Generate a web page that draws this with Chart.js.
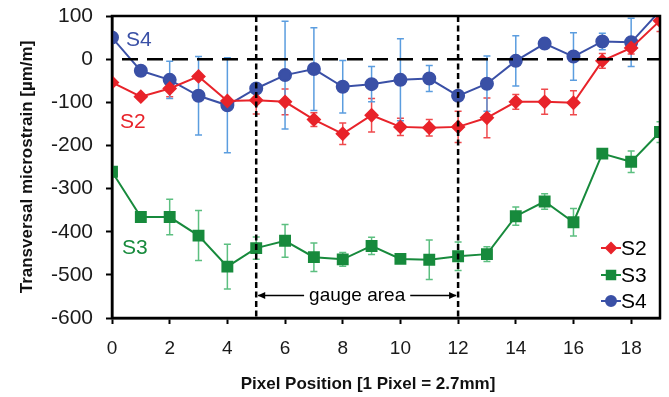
<!DOCTYPE html>
<html>
<head>
<meta charset="utf-8">
<script src="https://cdn.jsdelivr.net/npm/chart.js@4/dist/chart.umd.min.js"></script>
<style>
  html, body { margin: 0; padding: 0; background: #fff; }
  #wrap { width: 669px; height: 397px; }
</style>
</head>
<body>
<div id="wrap"><canvas id="strain-chart" width="669" height="397"></canvas></div>
<script>
// pixel positions
const pixels = [0, 1, 2, 3, 4, 5, 6, 7, 8, 9, 10, 11, 12, 13, 14, 15, 16, 17, 18, 19];
const xTicks = [0, 2, 4, 6, 8, 10, 12, 14, 16, 18];
const yTicks = [100, 0, -100, -200, -300, -400, -500, -600];

// transversal microstrain [µm/m] and error (half range)
const s2 = [-54, -87, -68, -40, -97, -95, -99, -140, -173, -130, -157, -159, -157, -136, -99, -99, -101, -4, 26, 89];
const s2Err = [0, 0, 19, 0, 0, 32, 30, 16, 25, 39, 20, 19, 36, 46, 17, 29, 28, 17, 14, 25];
const s3 = [-261, -366, -366, -409, -481, -438, -421, -459, -464, -433, -463, -465, -457, -452, -364, -330, -378, -219, -238, -169];
const s3Err = [0, 0, 41, 58, 52, 26, 38, 33, 16, 20, 10, 46, 33, 17, 21, 18, 32, 8, 25, 24];
const s4 = [50, -27, -48, -85, -107, -68, -37, -23, -64, -58, -48, -45, -85, -57, -4, 36, 6, 41, 39, 112];
const s4Err = [0, 0, 43, 91, 110, 0, 125, 96, 61, 41, 95, 30, 0, 64, 58, 0, 55, 19, 56, 0];

const gaugeStart = 5;
const gaugeEnd = 12;

const FONT = "'Liberation Sans', Arial, sans-serif";

function pts(vals) {
    return vals.map((v, i) => ({ x: pixels[i], y: v }));
}

const series = [
    { label: 'S2', data: s2, err: s2Err, color: '#e8232a', errColor: '#ef4a4d', style: 'rectRot', r: 6 },
    { label: 'S3', data: s3, err: s3Err, color: '#178a3c', errColor: '#5cbf80', style: 'rect', r: 7 },
    { label: 'S4', data: s4, err: s4Err, color: '#3a50a6', errColor: '#5b9ddf', style: 'circle', r: 6 }
];

// error bars drawn under the markers
const errorBars = {
    id: 'errorBars',
    beforeDatasetsDraw(chart) {
        const ctx = chart.ctx;
        const xs = chart.scales.x, ys = chart.scales.y;
        ctx.save();
        ctx.beginPath();
        ctx.rect(chart.chartArea.left, chart.chartArea.top, chart.chartArea.width, chart.chartArea.height);
        ctx.clip();
        series.forEach(s => {
            ctx.strokeStyle = s.errColor;
            ctx.lineWidth = 1.5;
            s.data.forEach((v, i) => {
                const e = s.err[i];
                if (!e) return;
                const px = xs.getPixelForValue(pixels[i]);
                const top = ys.getPixelForValue(v + e);
                const bot = ys.getPixelForValue(v - e);
                ctx.beginPath();
                ctx.moveTo(px, top); ctx.lineTo(px, bot);
                ctx.moveTo(px - 3.5, top); ctx.lineTo(px + 3.5, top);
                ctx.moveTo(px - 3.5, bot); ctx.lineTo(px + 3.5, bot);
                ctx.stroke();
            });
        });
        ctx.restore();
    }
};

// dashed reference lines, gauge area, labels, frame, legend
const decorations = {
    id: 'decorations',
    afterDatasetsDraw(chart) {
        const ctx = chart.ctx;
        const xs = chart.scales.x, ys = chart.scales.y;
        const area = chart.chartArea;
        ctx.save();
        ctx.strokeStyle = '#000';

        // zero line
        ctx.lineWidth = 2.5;
        ctx.setLineDash([16, 9]);
        const y0 = ys.getPixelForValue(0);
        ctx.beginPath();
        ctx.moveTo(area.left + 10, y0);
        ctx.lineTo(area.right, y0);
        ctx.stroke();

        // gauge borders
        ctx.setLineDash([6, 3.5]);
        [gaugeStart, gaugeEnd].forEach(g => {
            const gx = xs.getPixelForValue(g);
            ctx.beginPath();
            ctx.moveTo(gx, area.top);
            ctx.lineTo(gx, area.bottom);
            ctx.stroke();
        });
        ctx.setLineDash([]);

        // gauge area arrow + text
        const gx1 = xs.getPixelForValue(gaugeStart);
        const gx2 = xs.getPixelForValue(gaugeEnd);
        const gy = ys.getPixelForValue(-548);
        const mid = (gx1 + gx2) / 2;
        ctx.font = '19px ' + FONT;
        ctx.fillStyle = '#000';
        ctx.textAlign = 'center';
        ctx.textBaseline = 'middle';
        ctx.fillText('gauge area', mid, gy);
        const half = ctx.measureText('gauge area').width / 2 + 5;
        ctx.lineWidth = 1.5;
        ctx.beginPath();
        ctx.moveTo(mid - half, gy); ctx.lineTo(gx1 + 2, gy);
        ctx.moveTo(mid + half, gy); ctx.lineTo(gx2 - 2, gy);
        ctx.stroke();
        ctx.beginPath();
        ctx.moveTo(gx1 + 1.5, gy); ctx.lineTo(gx1 + 9, gy - 3.5); ctx.lineTo(gx1 + 9, gy + 3.5); ctx.closePath();
        ctx.moveTo(gx2 - 1.5, gy); ctx.lineTo(gx2 - 9, gy - 3.5); ctx.lineTo(gx2 - 9, gy + 3.5); ctx.closePath();
        ctx.fill();

        // series labels in the plot
        ctx.font = '21px ' + FONT;
        ctx.textAlign = 'left';
        ctx.fillStyle = series[2].color;
        ctx.fillText('S4', 126, 40);
        ctx.fillStyle = series[0].color;
        ctx.fillText('S2', 120, 122);
        ctx.fillStyle = series[1].color;
        ctx.fillText('S3', 122, 248);
        ctx.restore();
    },
    afterDraw(chart) {
        const ctx = chart.ctx;
        const area = chart.chartArea;
        ctx.save();
        ctx.strokeStyle = '#000';
        ctx.lineWidth = 2.5;
        ctx.strokeRect(area.left, area.top, area.width, area.height);

        // x axis title
        ctx.fillStyle = '#111';
        ctx.font = 'bold 17px ' + FONT;
        ctx.textAlign = 'center';
        ctx.textBaseline = 'middle';
        ctx.fillText('Pixel Position [1 Pixel = 2.7mm]', 368, 384);

        // legend
        ctx.font = '21px ' + FONT;
        ctx.textBaseline = 'middle';
        ctx.textAlign = 'left';
        const ly = [248, 275, 301];
        series.forEach((s, i) => {
            ctx.strokeStyle = s.color;
            ctx.fillStyle = s.color;
            ctx.lineWidth = 2;
            ctx.beginPath();
            ctx.moveTo(601, ly[i]);
            ctx.lineTo(621, ly[i]);
            ctx.stroke();
            Chart.helpers.drawPoint(ctx, { pointStyle: s.style, radius: s.r - 1, borderWidth: 1 }, 611, ly[i]);
            ctx.fillStyle = '#000';
            ctx.fillText(s.label, 621, ly[i] + 1);
        });
        ctx.restore();
    }
};

new Chart(document.getElementById('strain-chart'), {
    type: 'line',
    data: {
        datasets: series.map(s => ({
            label: s.label,
            data: pts(s.data),
            borderColor: s.color,
            backgroundColor: s.color,
            pointBackgroundColor: s.color,
            pointBorderColor: s.color,
            pointStyle: s.style,
            pointRadius: s.r,
            borderWidth: 2,
            tension: 0
        }))
    },
    options: {
        responsive: false,
        animation: false,
        layout: { padding: { top: 16, right: 9, left: 0, bottom: 0 } },
        plugins: {
            legend: { display: false },
            tooltip: { enabled: false }
        },
        scales: {
            x: {
                type: 'linear',
                min: 0,
                max: 19,
                afterBuildTicks: (scale) => { scale.ticks = xTicks.map(v => ({ value: v })); },
                afterFit: (scale) => { scale.height = 79; scale.paddingLeft = 0; scale.paddingRight = 0; },
                grid: { drawOnChartArea: false, drawTicks: true, tickLength: 6, color: '#000', tickWidth: 2 },
                border: { display: true, color: '#000', width: 2.5 },
                ticks: { color: '#1a1a1a', font: { family: FONT, size: 19 }, padding: 13, maxRotation: 0 },
                title: { display: false }
            },
            y: {
                min: -600,
                max: 100,
                afterBuildTicks: (scale) => { scale.ticks = yTicks.map(v => ({ value: v })); },
                afterFit: (scale) => { scale.width = 112; scale.paddingTop = 0; scale.paddingBottom = 0; },
                grid: { drawOnChartArea: false, drawTicks: true, tickLength: 6, color: '#000', tickWidth: 2 },
                border: { display: true, color: '#000', width: 2.5 },
                ticks: { color: '#1a1a1a', font: { family: FONT, size: 21 }, padding: 13 },
                title: {
                    display: true,
                    text: 'Transversal microstrain [µm/m]',
                    color: '#111',
                    font: { family: FONT, size: 17, weight: 'bold' },
                    padding: { top: 17, bottom: 0 }
                }
            }
        }
    },
    plugins: [errorBars, decorations]
});
</script>
</body>
</html>
